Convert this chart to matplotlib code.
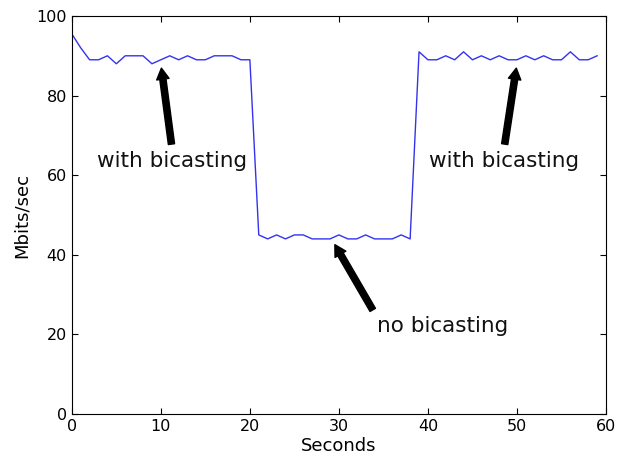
import numpy as np
import matplotlib.pyplot as plt

seconds = np.arange(60)
mbits = [95.5, 92, 89, 89, 90, 88, 90, 90, 90, 88,
         89, 90, 89, 90, 89, 89, 90, 90, 90, 89,
         89, 45, 44, 45, 44, 45, 45, 44, 44, 44,
         45, 44, 44, 45, 44, 44, 44, 45, 44, 91,
         89, 89, 90, 89, 91, 89, 90, 89, 90, 89,
         89, 90, 89, 90, 89, 89, 91, 89, 89, 90]

labels = ['with bicasting', 'with bicasting', 'no bicasting']
tips = [(10, 88), (50, 88), (29.3, 43.5)]
text_pos = [(11.3, 63.5), (48.5, 63.5), (41.6, 22)]

fig = plt.figure(figsize=(6.19, 4.57), dpi=100)
ax = fig.add_axes([0.116, 0.094, 0.863, 0.871])
ax.plot(seconds, mbits, color='#3333ee', linewidth=1)

for lab, tip, pos in zip(labels, tips, text_pos):
    ax.annotate(lab, xy=tip, xytext=pos, fontsize=15.5, ha='center', va='center',
                color='#111111',
                arrowprops=dict(facecolor='black', shrink=0.05, width=4.5,
                                headwidth=9, headlength=8))

ax.set_xlim(0, 60)
ax.set_ylim(0, 100)
ax.set_xticks(range(0, 61, 10))
ax.set_yticks(range(0, 101, 20))
ax.tick_params(direction='in', top=True, right=True, labelsize=11.5, length=4)
ax.set_xlabel('Seconds', fontsize=13, labelpad=2)
ax.set_ylabel('Mbits/sec', fontsize=13)

fig.savefig('out.png', dpi=100)
